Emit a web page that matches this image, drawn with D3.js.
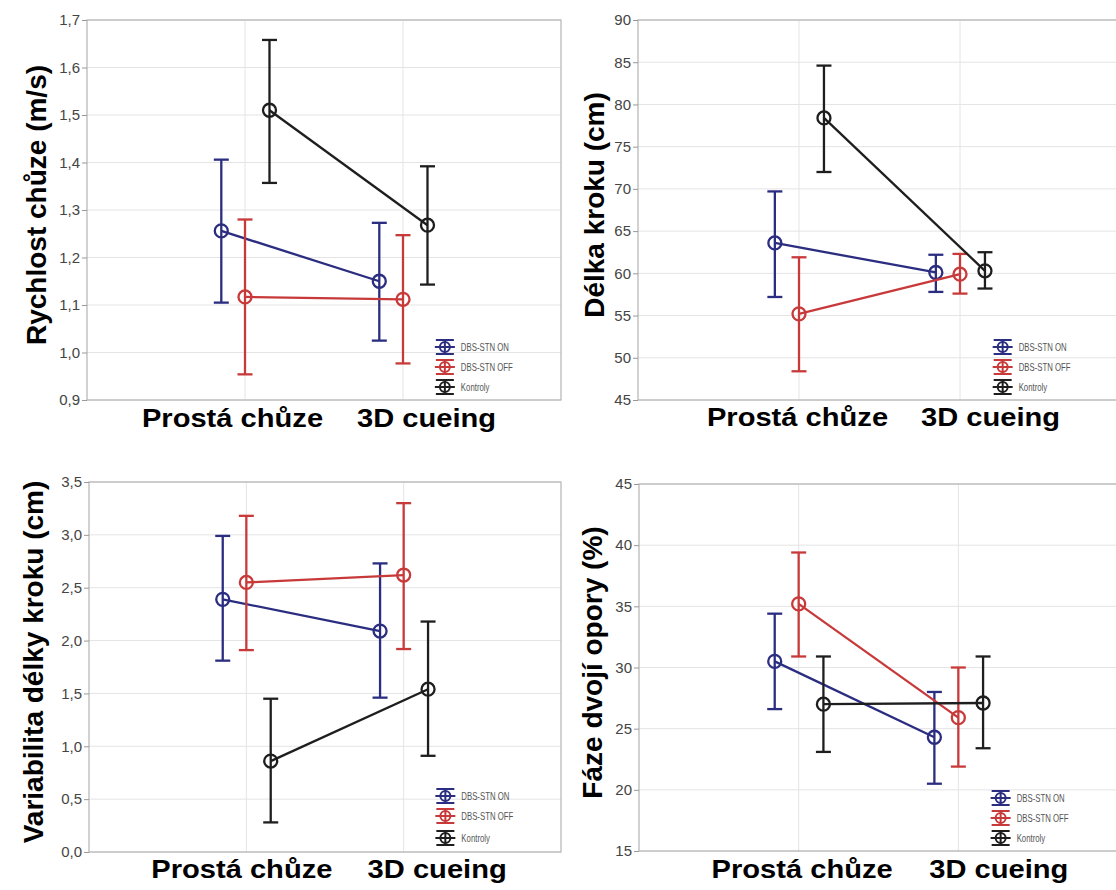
<!DOCTYPE html>
<html><head><meta charset="utf-8">
<script src="https://cdn.jsdelivr.net/npm/d3@7"></script>
<style>body{margin:0;background:#fff}</style>
</head><body><svg id="c" width="1116" height="890"></svg>
<script>
// ---------- data ----------
const categories = ["Prostá chůze", "3D cueing"];
const groups = ["DBS-STN ON", "DBS-STN OFF", "Kontroly"];
const groupColors = ["#2b2d80", "#c83a3a", "#1e1e1e"];
const groupOffsets = [-0.15, 0, 0.155];

// Rychlost chůze (m/s)
const speedMean = [[1.256, 1.150], [1.117, 1.112], [1.510, 1.268]];
const speedLow  = [[1.105, 1.025], [0.954, 0.977], [1.357, 1.143]];
const speedHigh = [[1.406, 1.273], [1.280, 1.247], [1.658, 1.392]];
const speedTicks = [0.9, 1.0, 1.1, 1.2, 1.3, 1.4, 1.5, 1.6, 1.7];

// Délka kroku (cm)
const stepMean = [[63.6, 60.1], [55.2, 59.9], [78.4, 60.3]];
const stepLow  = [[57.2, 57.8], [48.4, 57.6], [72.0, 58.2]];
const stepHigh = [[69.7, 62.2], [61.9, 62.3], [84.6, 62.5]];
const stepTicks = [45, 50, 55, 60, 65, 70, 75, 80, 85, 90];

// Variabilita délky kroku (cm)
const varMean = [[2.39, 2.09], [2.55, 2.62], [0.86, 1.54]];
const varLow  = [[1.81, 1.46], [1.91, 1.92], [0.28, 0.91]];
const varHigh = [[2.99, 2.73], [3.18, 3.30], [1.45, 2.18]];
const varTicks = [0.0, 0.5, 1.0, 1.5, 2.0, 2.5, 3.0, 3.5];

// Fáze dvojí opory (%)
const dsMean = [[30.5, 24.3], [35.2, 25.9], [27.0, 27.1]];
const dsLow  = [[26.6, 20.5], [30.9, 21.9], [23.1, 23.4]];
const dsHigh = [[34.4, 28.0], [39.4, 30.0], [30.9, 30.9]];
const dsTicks = [15, 20, 25, 30, 35, 40, 45];

const titles = ["Rychlost chůze (m/s)", "Délka kroku (cm)", "Variabilita délky kroku (cm)", "Fáze dvojí opory (%)"];

// ---------- layout ----------
const frames = [
  {left: 87,  top: 20,  right: 561,  bottom: 400, titleX: 46,  labelDx: [-13, 23], labelY: 27, rows: [-53, -33, -13]},
  {left: 638, top: 20,  right: 1121, bottom: 400, titleX: 604, labelDx: [-2, 30],  labelY: 26, rows: [-53, -33, -13]},
  {left: 89,  top: 482, right: 561,  bottom: 852, titleX: 43,  labelDx: [-5, 33],  labelY: 26, rows: [-56, -36, -14]},
  {left: 639, top: 484, right: 1118, bottom: 851, titleX: 602, labelDx: [3, 40],   labelY: 27, rows: [-53, -33, -13]}
];

const panels = [
  {title: titles[0], mean: speedMean, low: speedLow, high: speedHigh, ticks: speedTicks, dec: 1},
  {title: titles[1], mean: stepMean,  low: stepLow,  high: stepHigh,  ticks: stepTicks,  dec: 0},
  {title: titles[2], mean: varMean,   low: varLow,   high: varHigh,   ticks: varTicks,   dec: 1},
  {title: titles[3], mean: dsMean,    low: dsLow,    high: dsHigh,    ticks: dsTicks,    dec: 0}
];

const svg = d3.select("#c");
const FONT = "'Liberation Sans', Arial, sans-serif";
const SW = 2.3;

panels.forEach((p, pi) => {
  const f = frames[pi];
  const x = d3.scaleLinear().domain([0, 3]).range([f.left, f.right]);
  const y = d3.scaleLinear().domain(d3.extent(p.ticks)).range([f.bottom, f.top]);
  const fmt = v => d3.format("." + p.dec + "f")(v).replace(".", ",");
  const g = svg.append("g");

  // grid
  g.append("g").selectAll("line").data(p.ticks).join("line")
    .attr("x1", f.left).attr("x2", f.right)
    .attr("y1", d => y(d)).attr("y2", d => y(d))
    .attr("stroke", "#e4e4e4").attr("stroke-width", 1);
  g.append("g").selectAll("line").data([1, 2]).join("line")
    .attr("x1", d => x(d)).attr("x2", d => x(d))
    .attr("y1", f.top).attr("y2", f.bottom)
    .attr("stroke", "#e4e4e4").attr("stroke-width", 1);

  // frame
  g.append("rect").attr("x", f.left).attr("y", f.top)
    .attr("width", f.right - f.left).attr("height", f.bottom - f.top)
    .attr("fill", "none").attr("stroke", "#b4b4b4").attr("stroke-width", 1.2);

  // y axis
  const ya = g.append("g").attr("transform", `translate(${f.left},0)`)
    .call(d3.axisLeft(y).tickValues(p.ticks).tickFormat(fmt).tickSize(5).tickPadding(2).tickSizeOuter(0));
  ya.select(".domain").remove();
  ya.selectAll(".tick line").attr("stroke", "#999");
  ya.selectAll(".tick text").attr("font-family", FONT).attr("font-size", 15).attr("fill", "#444");

  // x axis labels
  const xa = g.append("g").attr("transform", `translate(0,${f.bottom})`)
    .call(d3.axisBottom(x).tickValues([1, 2]).tickFormat(d => categories[d - 1]).tickSize(0));
  xa.select(".domain").remove();
  xa.selectAll(".tick text")
    .attr("font-family", FONT).attr("font-size", 26).attr("font-weight", "bold").attr("fill", "#000")
    .attr("y", 0).attr("dy", 0)
    .attr("transform", (d, i) => `translate(${f.labelDx[i]},${f.labelY}) scale(1.12,1)`);

  // y title
  g.append("text")
    .attr("transform", `translate(${f.titleX},${(f.top + f.bottom) / 2 - 5}) rotate(-90)`)
    .attr("text-anchor", "middle")
    .attr("font-family", FONT).attr("font-size", 28).attr("font-weight", "bold").attr("fill", "#000")
    .text(p.title);

  // series
  groups.forEach((gn, si) => {
    const col = groupColors[si];
    const pts = categories.map((c, ci) => ({
      cx: x(ci + 1 + groupOffsets[si]),
      m: y(p.mean[si][ci]), lo: y(p.low[si][ci]), hi: y(p.high[si][ci])
    }));
    const sg = g.append("g");
    sg.append("path")
      .attr("d", d3.line().x(d => d.cx).y(d => d.m)(pts))
      .attr("fill", "none").attr("stroke", col).attr("stroke-width", SW);
    sg.selectAll("line.eb").data(pts).join("line")
      .attr("x1", d => d.cx).attr("x2", d => d.cx).attr("y1", d => d.lo).attr("y2", d => d.hi)
      .attr("stroke", col).attr("stroke-width", SW);
    sg.selectAll("line.ct").data(pts).join("line")
      .attr("x1", d => d.cx - 7.5).attr("x2", d => d.cx + 7.5).attr("y1", d => d.hi).attr("y2", d => d.hi)
      .attr("stroke", col).attr("stroke-width", SW);
    sg.selectAll("line.cb").data(pts).join("line")
      .attr("x1", d => d.cx - 7.5).attr("x2", d => d.cx + 7.5).attr("y1", d => d.lo).attr("y2", d => d.lo)
      .attr("stroke", col).attr("stroke-width", SW);
    sg.selectAll("circle").data(pts).join("circle")
      .attr("cx", d => d.cx).attr("cy", d => d.m).attr("r", 6.5)
      .attr("fill", "none").attr("stroke", col).attr("stroke-width", SW);

    // legend
    const lx = f.left + 0.755 * (f.right - f.left);
    const ly = f.bottom + f.rows[si];
    const lg = g.append("g").attr("transform", `translate(${lx},${ly})`);
    lg.append("line").attr("x1", -10).attr("x2", 10).attr("y1", 0).attr("y2", 0).attr("stroke", col).attr("stroke-width", 2);
    lg.append("line").attr("x1", -9).attr("x2", 9).attr("y1", -7).attr("y2", -7).attr("stroke", col).attr("stroke-width", 2);
    lg.append("line").attr("x1", -9).attr("x2", 9).attr("y1", 7).attr("y2", 7).attr("stroke", col).attr("stroke-width", 2);
    lg.append("line").attr("x1", 0).attr("x2", 0).attr("y1", -7).attr("y2", 7).attr("stroke", col).attr("stroke-width", 2);
    lg.append("circle").attr("r", 5).attr("fill", "none").attr("stroke", col).attr("stroke-width", 2);
    lg.append("text").attr("transform", "translate(16,4) scale(0.78,1)")
      .attr("font-family", FONT).attr("font-size", 10).attr("fill", "#555")
      .text(gn);
  });
});
</script>
</body></html>
